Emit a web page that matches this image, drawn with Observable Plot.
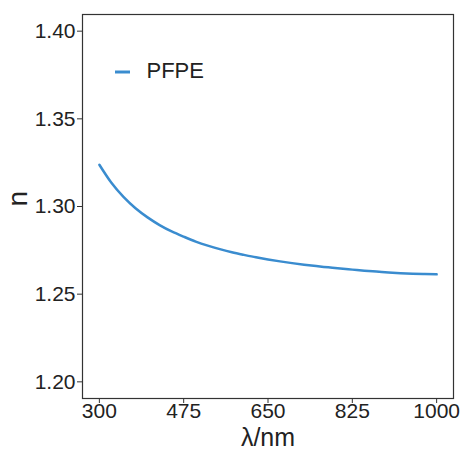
<!DOCTYPE html>
<html>
<head>
<meta charset="utf-8">
<script src="https://cdn.jsdelivr.net/npm/d3@7"></script>
<script src="https://cdn.jsdelivr.net/npm/@observablehq/plot@0.6"></script>
<style>
  html, body { margin: 0; padding: 0; background: #fff; }
  svg { font-family: "Liberation Sans", Arial, sans-serif; }
</style>
</head>
<body>
<div id="chart"></div>
<script>
const seriesName = "PFPE";
const wavelength = [300, 325, 350, 375, 400, 425, 450, 475, 500, 525, 550, 575, 600, 625, 650, 675, 700, 725, 750, 775, 800, 825, 850, 875, 900, 925, 950, 975, 1000];
const refractiveIndex = [1.3238, 1.3135, 1.3055, 1.2990, 1.2938, 1.2894, 1.2858, 1.2828, 1.2800, 1.2777, 1.2757, 1.2739, 1.2724, 1.2710, 1.2698, 1.2687, 1.2677, 1.2668, 1.2660, 1.2653, 1.2646, 1.2640, 1.2634, 1.2629, 1.2624, 1.2620, 1.2617, 1.2615, 1.2613];
const xTicks = [300, 475, 650, 825, 1000];
const yTicks = [1.20, 1.25, 1.30, 1.35, 1.40];
const lineColor = "#3a8ccf";

const data = wavelength.map((w, i) => ({ w, n: refractiveIndex[i], s: seriesName }));

const plot = Plot.plot({
  width: 461,
  height: 449,
  marginLeft: 82,
  marginRight: 8,
  marginTop: 14,
  marginBottom: 51,
  style: { fontFamily: "Liberation Sans, Arial, sans-serif", background: "#fff", color: "#222" },
  x: { domain: [265, 1035], ticks: xTicks, tickFormat: d => String(d), label: null },
  y: { domain: [1.1905, 1.4095], ticks: yTicks, tickFormat: d3.format(".2f"), label: null },
  marks: [
    Plot.frame({ stroke: "#333", strokeWidth: 1.2 }),
    Plot.axisX({ ticks: xTicks, tickFormat: d => String(d), tickSize: 5, tickPadding: 0, fontSize: 21, stroke: "#333", label: null }),
    Plot.axisY({ ticks: yTicks, tickFormat: d3.format(".2f"), tickSize: 5, tickPadding: 2, fontSize: 21, stroke: "#333", label: null }),
    Plot.line(data, { x: "w", y: "n", stroke: lineColor, strokeWidth: 2.5, curve: "natural" }),
    Plot.text([seriesName], { text: d => d, frameAnchor: "top-left", dx: 64, dy: 63, textAnchor: "start", lineAnchor: "bottom", fontSize: 22, fill: "#222" }),
    Plot.text(["λ/nm"], { text: d => d, frameAnchor: "bottom", dy: 47, lineAnchor: "bottom", fontSize: 25, fill: "#222" }),
    Plot.text(["n"], { text: d => d, frameAnchor: "left", dx: -64, rotate: -90, fontSize: 28, fill: "#222" })
  ]
});

// legend key line
const svg = d3.select(plot);
svg.append("line")
  .attr("x1", 115).attr("x2", 130)
  .attr("y1", 72).attr("y2", 72)
  .attr("stroke", lineColor).attr("stroke-width", 3);

document.getElementById("chart").appendChild(plot);
</script>
</body>
</html>
